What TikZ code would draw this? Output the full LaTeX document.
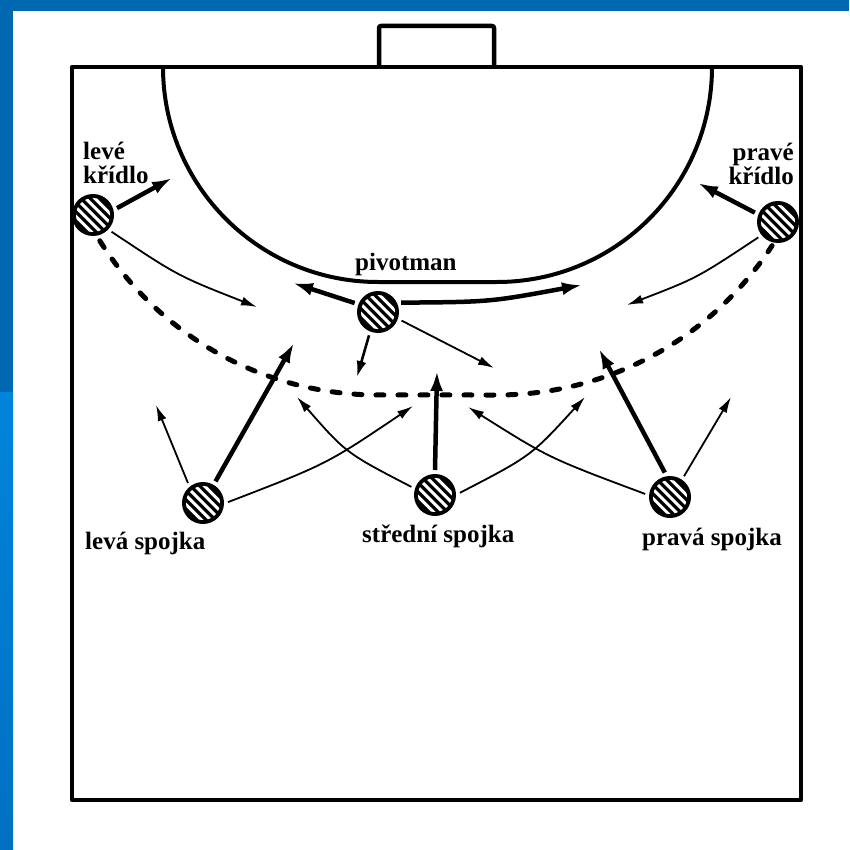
\documentclass[tikz,border=0pt]{standalone}
\usepackage{fontspec}
\setmainfont{Liberation Serif}
\usetikzlibrary{arrows.meta,calc}
\definecolor{slideblue}{HTML}{0068B0}
\definecolor{slidelight}{HTML}{0084DC}
\definecolor{slidelow}{HTML}{0070C2}
\begin{document}
\begin{tikzpicture}[x=1pt,y=-1pt,
  court/.style={line width=4.5pt, line join=round},
  player/.style={circle, fill=black, minimum size=42pt, inner sep=0pt, outer sep=4pt,
    path picture={
      \begin{scope}
        \clip (path picture bounding box.center) circle[radius=17pt];
        \foreach \d in {-13,-6.5,0,6.5,13}
          \draw[white, line width=3pt]
            ($(path picture bounding box.center)+(\d*0.7071pt-20pt, \d*0.7071pt+20pt)$) --
            ($(path picture bounding box.center)+(\d*0.7071pt+20pt, \d*0.7071pt-20pt)$);
      \end{scope}
    }},
  lbl/.style={font=\fontsize{25}{24}\selectfont\bfseries, inner sep=0pt},
  thickarr/.style={line width=4.5pt, -{Latex[length=20pt,width=13pt]}},
  thinarr/.style={line width=1.8pt, -{Latex[length=16pt,width=9pt]}},
  midarr/.style={line width=2.6pt, -{Latex[length=16pt,width=10pt]}},
  dashline/.style={line width=5pt, line cap=round, dash pattern=on 8pt off 14pt},
]
\useasboundingbox (0,0) rectangle (849,850);
\fill[white] (0,0) rectangle (849,850);
\fill[slideblue] (0,0) rectangle (849,11);
\fill[slideblue] (0,0) rectangle (13,392);
\shade[top color=slidelight, bottom color=slidelow] (0,392) rectangle (13,850);

% court
\draw[court] (72,67) rectangle (801,800);
\draw[court, rounded corners=2pt] (379,67) -- (379,26) -- (494,26) -- (494,67);
% goal area
\draw[line width=4pt] (163,67) arc[start angle=180, end angle=90, radius=215]
  -- (497,282) arc[start angle=90, end angle=0, radius=215];
% free-throw line (dashed)
\draw[dashline] (99.8,240.8) arc[start angle=148, end angle=90, radius=328]
  -- (497,395) arc[start angle=90, end angle=33, radius=328];

% players
\node[player] (lw) at (93,215) {};
\node[player] (rw) at (778,222) {};
\node[player] (pv) at (378,312) {};
\node[player] (lb) at (203,503) {};
\node[player] (cb) at (435,495) {};
\node[player] (rb) at (670,497) {};

% labels (base anchor = baseline of the last line)
\node[lbl, align=left, anchor=base west] (lwl) at (83,184) {levé\\křídlo};
\node[lbl, align=right, anchor=base east] (rwl) at (794,185) {pravé\\křídlo};
\node[lbl, anchor=base west] (pvl) at (355,270) {pivotman};
\node[lbl, anchor=base west] (lbl1) at (85,549) {levá spojka};
\node[lbl, anchor=base west] (cbl) at (362,542) {střední spojka};
\node[lbl, anchor=base west] (rbl) at (642,545) {pravá spojka};

% arrow end points
\coordinate (e1) at (172,178);
\coordinate (e2) at (257,307);
\coordinate (e3) at (698,183);
\coordinate (e4) at (627,305);
\coordinate (e5) at (293,283);
\coordinate (e6) at (582,285);
\coordinate (e7) at (357,377);
\coordinate (e8) at (494,368);
\coordinate (e9) at (156,405);
\coordinate (e10) at (294,343);
\coordinate (e11) at (413,406);
\coordinate (e12) at (437,371);
\coordinate (e13) at (297,397);
\coordinate (e14) at (585,397);
\coordinate (e15) at (468,407);
\coordinate (e16) at (599,349);
\coordinate (e17) at (731,397);

% arrows
\draw[thickarr] (lw.16) -- (e1);
\draw[thinarr] (lw.-42) .. controls (178,276) .. (e2);
\draw[thickarr] (rw.158) -- (e3);
\draw[thinarr] (rw.218) .. controls (697,278) .. (e4);
\draw[thickarr] (pv.159) -- (e5);
\draw[thickarr] (pv.22) .. controls (490,302) .. (e6);
\draw[midarr] (pv.249) -- (e7);
\draw[thinarr] (pv.-20) -- (e8);
\draw[thinarr] (lb.127) -- (e9);
\draw[thickarr] (lb.60) -- (e10);
\draw[thinarr] (lb.2) .. controls (327,464) .. (e11);
\draw[thickarr] (cb.90) -- (e12);
\draw[thinarr] (cb.161) .. controls (346,453) .. (e13);
\draw[thinarr] (cb.5) .. controls (531,456) .. (e14);
\draw[thinarr] (rb.173) .. controls (549,458) .. (e15);
\draw[thickarr] (rb.102) -- (e16);
\draw[thinarr] (rb.56) -- (e17);
\end{tikzpicture}
\end{document}
